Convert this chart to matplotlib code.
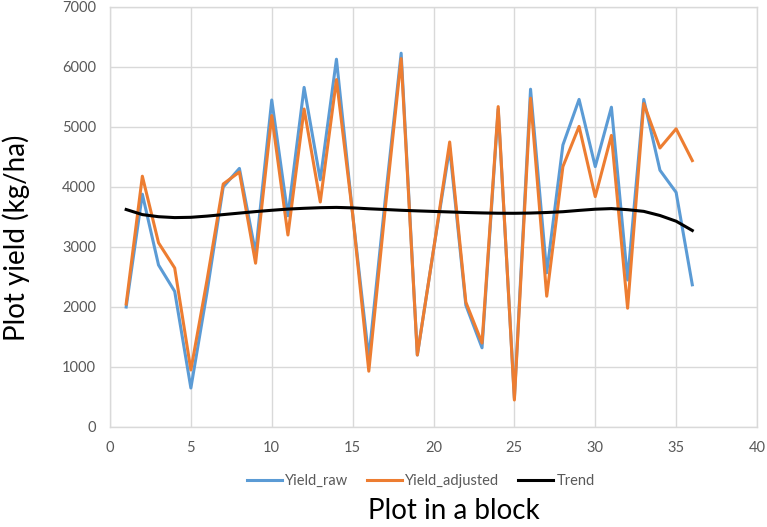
import matplotlib
matplotlib.use("Agg")
import matplotlib.pyplot as plt

plots = list(range(1, 37))
yield_raw = [2000, 3880, 2700, 2260, 650, 2250, 4000, 4310, 2900, 5450,
             3520, 5660, 4120, 6130, 3550, 1150, 3750, 6230, 1200, 2950,
             4650, 2030, 1320, 5300, 480, 5630, 2570, 4700, 5460, 4340,
             5330, 2450, 5460, 4280, 3910, 2370]
yield_adjusted = [2050, 4180, 3070, 2650, 950, 2450, 4050, 4250, 2730, 5190,
                  3200, 5300, 3750, 5790, 3550, 930, 3600, 6140, 1200, 2950,
                  4750, 2080, 1400, 5340, 450, 5480, 2180, 4340, 5010, 3840,
                  4860, 1980, 5390, 4650, 4970, 4440]
trend = [3625, 3540, 3505, 3490, 3495, 3515, 3540, 3565, 3590, 3612,
         3632, 3645, 3655, 3660, 3652, 3637, 3625, 3612, 3602, 3593,
         3584, 3575, 3568, 3563, 3562, 3566, 3575, 3588, 3610, 3630,
         3640, 3622, 3594, 3525, 3430, 3275]

font = ["Lato", "DejaVu Sans"]
plt.rcParams['font.family'] = font

W, H = 767, 527
fig = plt.figure(figsize=(W/100, H/100), dpi=100)
ax = fig.add_axes([110/W, 1-427/H, (757-110)/W, (427-7)/H])

ax.plot(plots, yield_raw, color="#5B9BD5", lw=2.2, label="Yield_raw", zorder=3)
ax.plot(plots, yield_adjusted, color="#ED7D31", lw=2.2, label="Yield_adjusted", zorder=4)
ax.plot(plots, trend, color="black", lw=2.2, label="Trend", zorder=5)

ax.set_xlim(0, 40)
ax.set_ylim(0, 7000)
ax.set_xticks(range(0, 41, 5))
ax.set_yticks(range(0, 7001, 1000))
ax.grid(True, color="#D9D9D9", lw=1)
ax.set_axisbelow(True)
for s in ax.spines.values():
    s.set_color("#D9D9D9")
    s.set_linewidth(1)
ax.tick_params(length=0, labelsize=10.5, labelcolor="#595959", pad=10)

fig.text(454/W, 1-519/H, "Plot in a block", fontsize=20, ha="center", va="baseline")
fig.text(16/W, 1-238/H, "Plot yield (kg/ha)", fontsize=20, rotation=90,
         ha="center", va="center")

leg = fig.legend(loc="center", bbox_to_anchor=(421/W, 1-481/H), ncol=3,
                 frameon=False, fontsize=10.5, handlelength=2.4, columnspacing=1.3,
                 handletextpad=0.2)
for t in leg.get_texts():
    t.set_color("#595959")

fig.savefig("out.png", dpi=100)
